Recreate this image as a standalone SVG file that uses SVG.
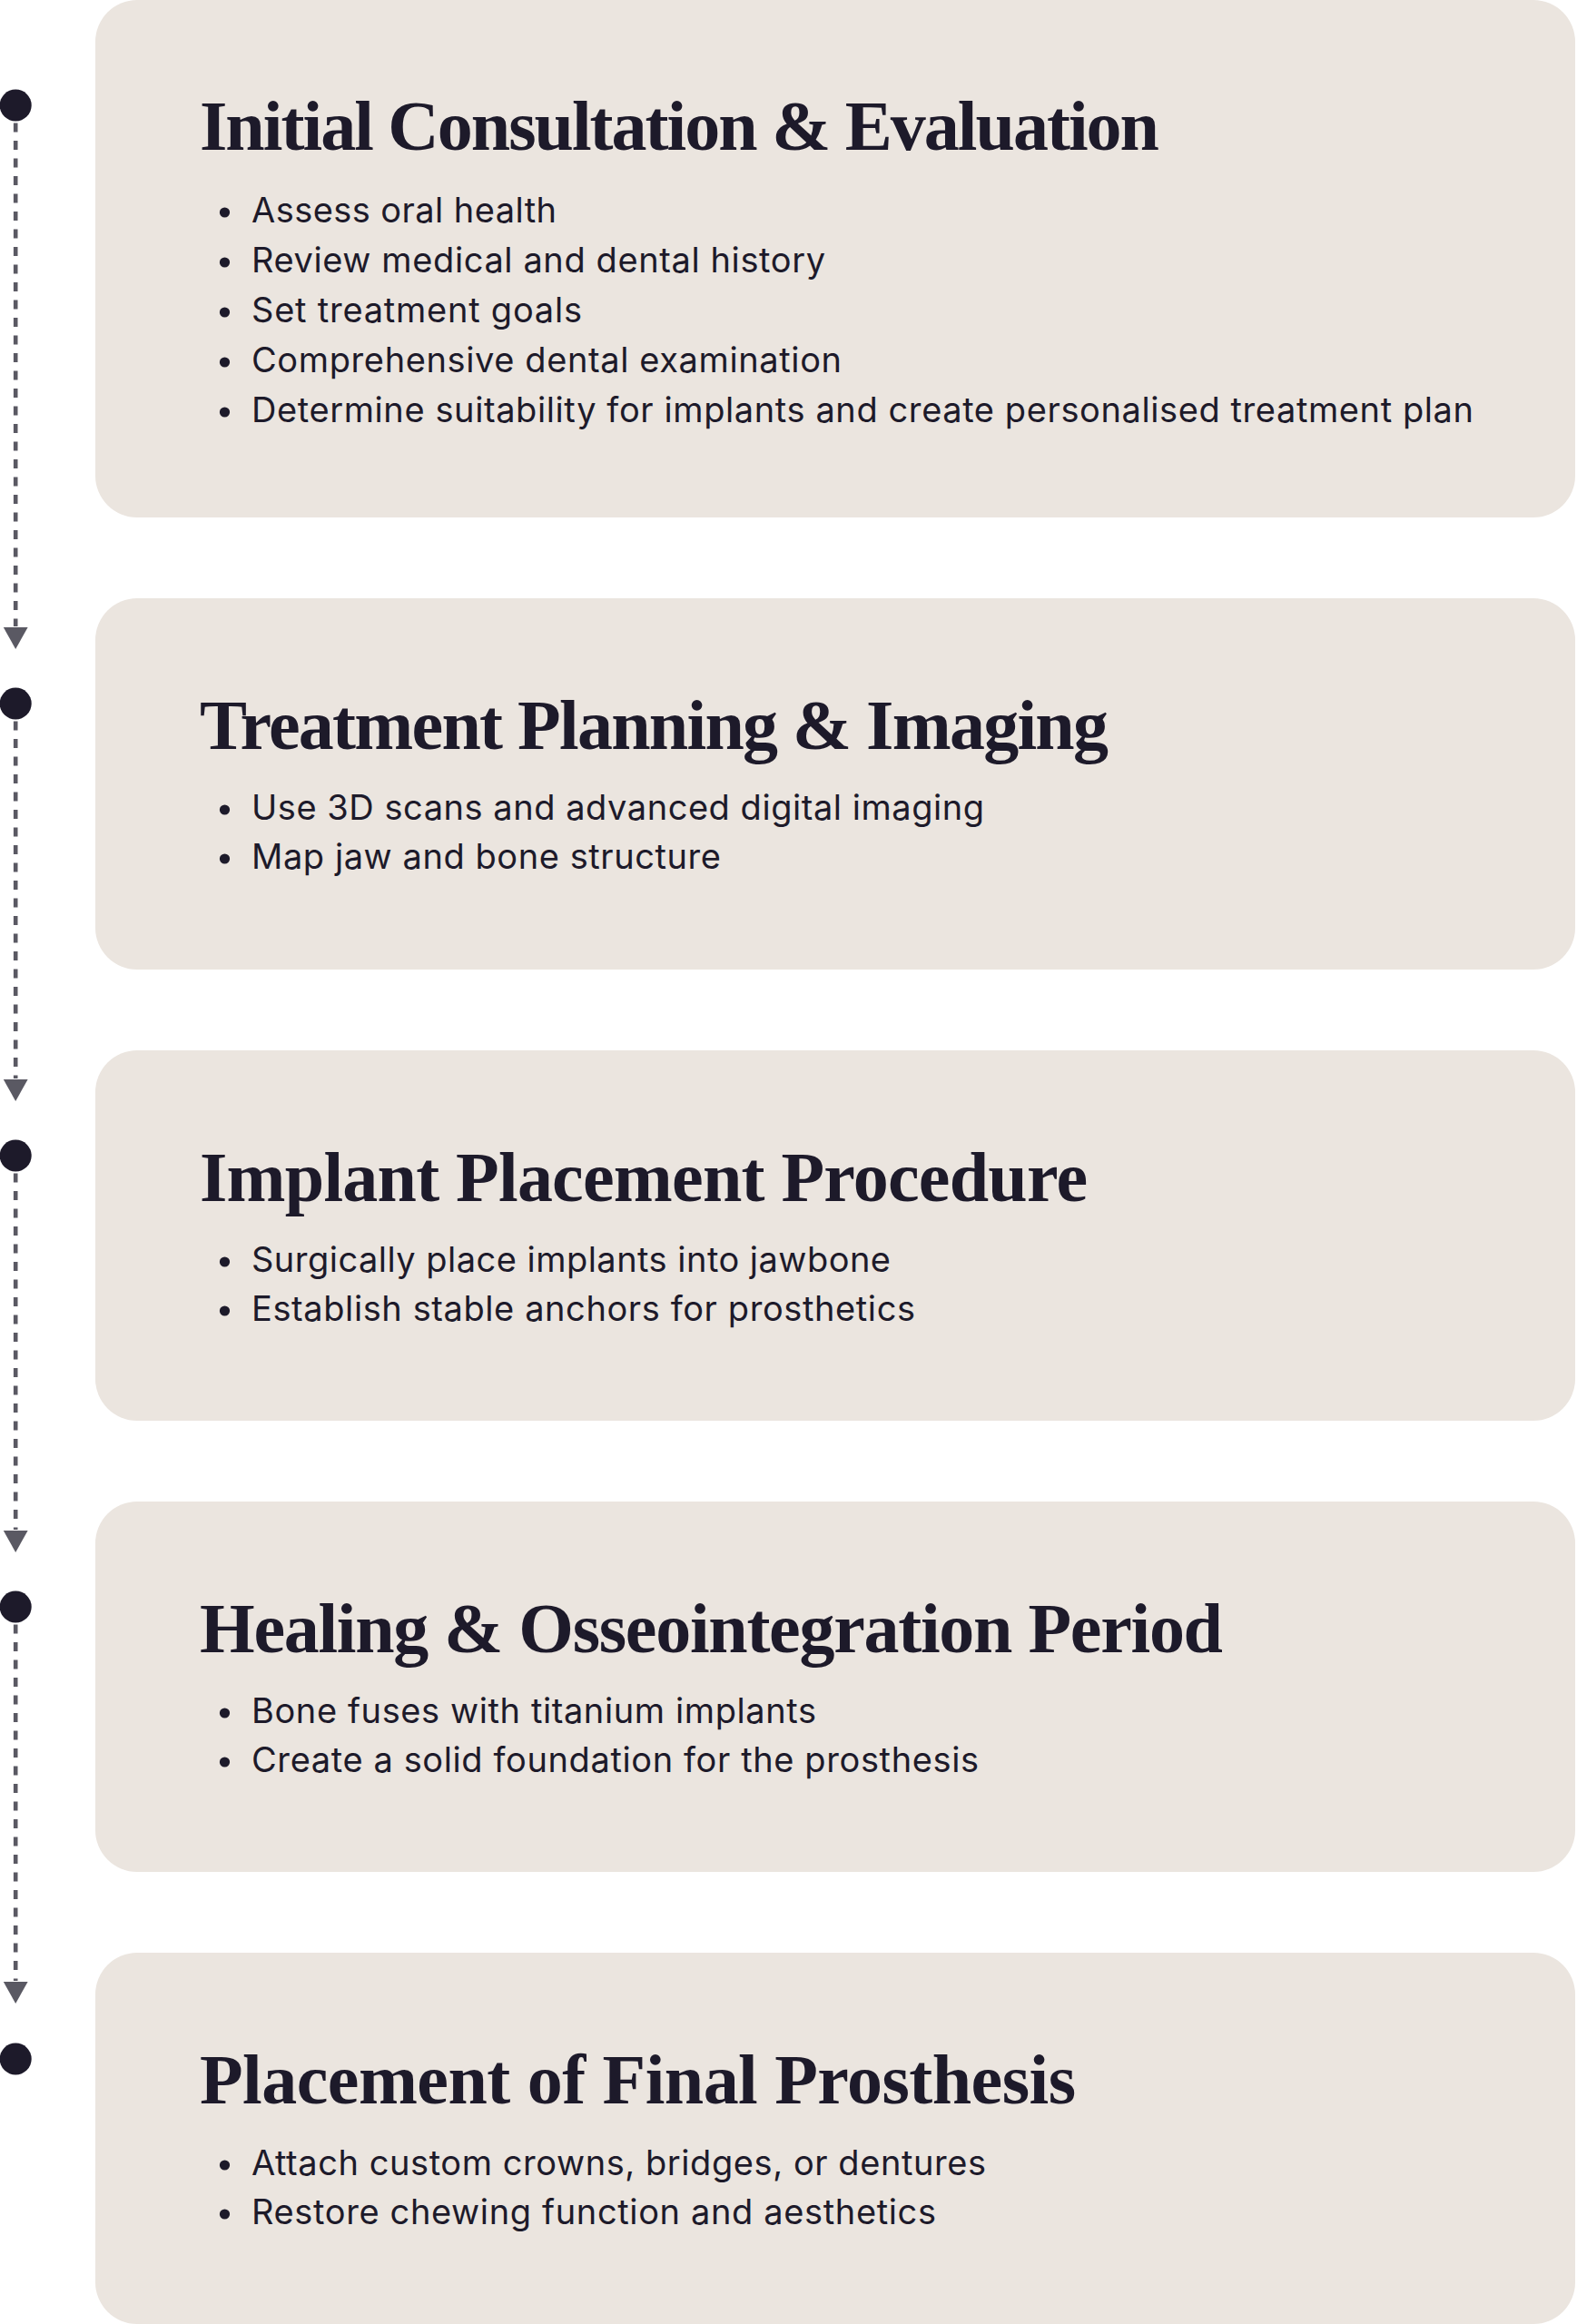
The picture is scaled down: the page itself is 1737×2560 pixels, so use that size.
<svg xmlns="http://www.w3.org/2000/svg" width="1737" height="2560" viewBox="0 0 1737 2560">
<style>
.box{fill:#EBE5DF}
.title{font-family:"Liberation Serif","Times New Roman",serif;font-weight:bold;font-size:78px;fill:#1D1A2A}
.item{font-family:Inter,"Noto Sans","Liberation Sans",sans-serif;font-size:38px;fill:#1D1A2A}
.bul{fill:#1D1A2A}
.dot{fill:#1D1A2A}
.dash{stroke:#5A5963;stroke-width:4.6;stroke-dasharray:10 9.5;fill:none}
.tri{fill:#5A5963}
</style>
<rect width="1737" height="2560" fill="#FFFFFF"/>
<g id="connectors">
<line class="dash" x1="17.2" y1="116" x2="17.2" y2="690"/>
<polygon class="tri" points="3.8,691 30.6,691 17.2,715"/>
<line class="dash" x1="17.2" y1="775" x2="17.2" y2="1188"/>
<polygon class="tri" points="3.8,1189 30.6,1189 17.2,1213"/>
<line class="dash" x1="17.2" y1="1273" x2="17.2" y2="1685"/>
<polygon class="tri" points="3.8,1686 30.6,1686 17.2,1710"/>
<line class="dash" x1="17.2" y1="1770" x2="17.2" y2="2182"/>
<polygon class="tri" points="3.8,2183 30.6,2183 17.2,2207"/>
</g>
<g id="step1">
<rect class="box" x="105" y="0" width="1630" height="570" rx="46"/>
<circle class="dot" cx="17.2" cy="116" r="17.5"/>
<text class="title" x="220" y="165" textLength="1057">Initial Consultation &amp; Evaluation</text>
<circle class="bul" cx="247.5" cy="234" r="5.6"/>
<text class="item" x="277" y="245" textLength="336">Assess oral health</text>
<circle class="bul" cx="247.5" cy="289" r="5.6"/>
<text class="item" x="277" y="300" textLength="632">Review medical and dental history</text>
<circle class="bul" cx="247.5" cy="344" r="5.6"/>
<text class="item" x="277" y="355" textLength="364">Set treatment goals</text>
<circle class="bul" cx="247.5" cy="399" r="5.6"/>
<text class="item" x="277" y="410" textLength="650">Comprehensive dental examination</text>
<circle class="bul" cx="247.5" cy="454" r="5.6"/>
<text class="item" x="277" y="465" textLength="1346">Determine suitability for implants and create personalised treatment plan</text>
</g>
<g id="step2">
<rect class="box" x="105" y="659" width="1630" height="409" rx="46"/>
<circle class="dot" cx="17.2" cy="775" r="17.5"/>
<text class="title" x="220" y="825" textLength="1001">Treatment Planning &amp; Imaging</text>
<circle class="bul" cx="247.5" cy="892" r="5.6"/>
<text class="item" x="277" y="903" textLength="807">Use 3D scans and advanced digital imaging</text>
<circle class="bul" cx="247.5" cy="946" r="5.6"/>
<text class="item" x="277" y="957" textLength="517">Map jaw and bone structure</text>
</g>
<g id="step3">
<rect class="box" x="105" y="1157" width="1630" height="408" rx="46"/>
<circle class="dot" cx="17.2" cy="1273" r="17.5"/>
<text class="title" x="220" y="1323" textLength="978">Implant Placement Procedure</text>
<circle class="bul" cx="247.5" cy="1390" r="5.6"/>
<text class="item" x="277" y="1401" textLength="704">Surgically place implants into jawbone</text>
<circle class="bul" cx="247.5" cy="1444" r="5.6"/>
<text class="item" x="277" y="1455" textLength="731">Establish stable anchors for prosthetics</text>
</g>
<g id="step4">
<rect class="box" x="105" y="1654" width="1630" height="408" rx="46"/>
<circle class="dot" cx="17.2" cy="1770" r="17.5"/>
<text class="title" x="220" y="1820" textLength="1127">Healing &amp; Osseointegration Period</text>
<circle class="bul" cx="247.5" cy="1887" r="5.6"/>
<text class="item" x="277" y="1898" textLength="622">Bone fuses with titanium implants</text>
<circle class="bul" cx="247.5" cy="1941" r="5.6"/>
<text class="item" x="277" y="1952" textLength="801">Create a solid foundation for the prosthesis</text>
</g>
<g id="step5">
<rect class="box" x="105" y="2151" width="1630" height="409" rx="46"/>
<circle class="dot" cx="17.2" cy="2268" r="17.5"/>
<text class="title" x="220" y="2317" textLength="965">Placement of Final Prosthesis</text>
<circle class="bul" cx="247.5" cy="2385" r="5.6"/>
<text class="item" x="277" y="2396" textLength="809">Attach custom crowns, bridges, or dentures</text>
<circle class="bul" cx="247.5" cy="2439" r="5.6"/>
<text class="item" x="277" y="2450" textLength="754">Restore chewing function and aesthetics</text>
</g>
</svg>
